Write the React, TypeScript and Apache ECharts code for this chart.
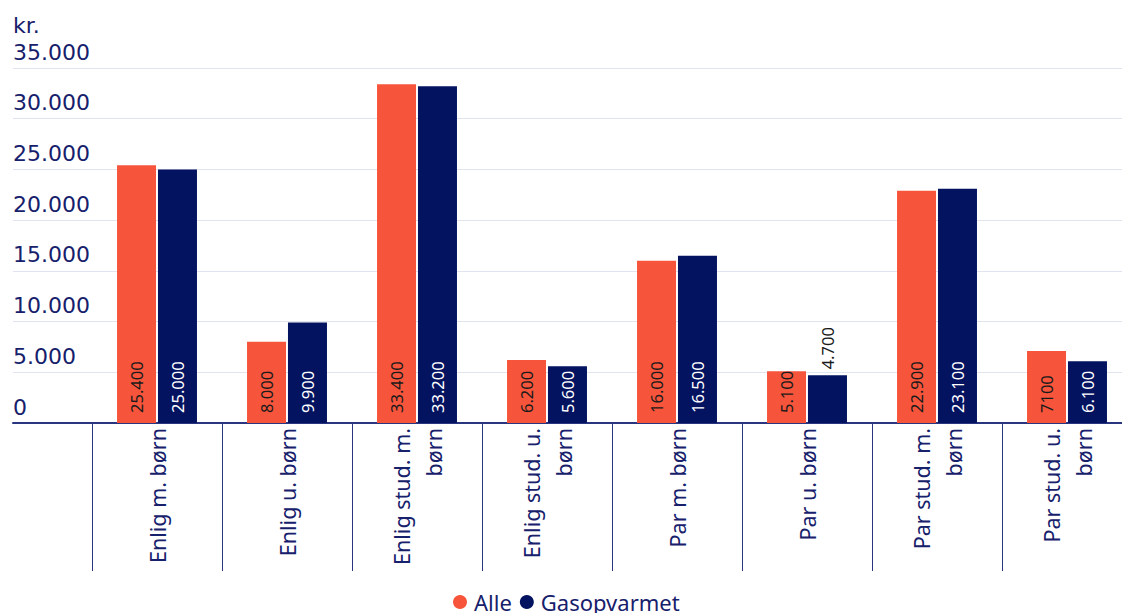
import React, { useEffect, useRef } from "react";
import * as echarts from "echarts";

const categories = [
  "Enlig m. børn",
  "Enlig u. børn",
  "Enlig stud. m.\nbørn",
  "Enlig stud. u.\nbørn",
  "Par m. børn",
  "Par u. børn",
  "Par stud. m.\nbørn",
  "Par stud. u.\nbørn",
];
const alleValues = [25400, 8000, 33400, 6200, 16000, 5100, 22900, 7100];
const alleLabels = ["25.400", "8.000", "33.400", "6.200", "16.000", "5.100", "22.900", "7100"];
const gasValues = [25000, 9900, 33200, 5600, 16500, 4700, 23100, 6100];
const gasLabels = ["25.000", "9.900", "33.200", "5.600", "16.500", "4.700", "23.100", "6.100"];
const yTicks = [0, 5000, 10000, 15000, 20000, 25000, 30000, 35000];
const yTickLabels = ["0", "5.000", "10.000", "15.000", "20.000", "25.000", "30.000", "35.000"];

const NAVY = "#03135f";
const ORANGE = "#f6553c";
const TEXT = "#16206b";
const FONT = "'Noto Sans', sans-serif";
const WIDE = "'DejaVu Sans', sans-serif";

export default function App() {
  const ref = useRef<HTMLDivElement>(null);
  useEffect(() => {
    if (!ref.current) return;
    const chart = echarts.init(ref.current, null, { renderer: "svg" });
    const labelMap: Record<number, string> = {};
    yTicks.forEach((t, i) => (labelMap[t] = yTickLabels[i]));

    const barLabel = (color: string) => ({
      show: true,
      position: "insideBottom",
      distance: 10,
      rotate: 90,
      align: "left",
      verticalAlign: "middle",
      fontSize: 16.5,
      fontFamily: FONT,
      color,
    });

    chart.setOption({
      animation: false,
      title: {
        text: "kr.",
        left: 8,
        top: 9,
        textStyle: { fontSize: 22, fontWeight: "normal", color: TEXT, fontFamily: WIDE },
      },
      legend: {
        bottom: -5,
        left: 448,
        icon: "circle",
        itemWidth: 14,
        itemHeight: 14,
        itemGap: 8,
        textStyle: { fontSize: 22, color: TEXT, fontFamily: FONT, padding: [0, 0, 0, 2] },
        data: ["Alle", "Gasopvarmet"],
      },
      grid: [
        { left: 13, right: 10, top: 68, bottom: 190 },
        { left: 92, right: 0, top: 68, bottom: 190 },
      ],
      xAxis: [
        {
          gridIndex: 0,
          type: "category",
          data: [""],
          axisLine: { show: true, lineStyle: { color: "#2a3580", width: 2 } },
          axisTick: { show: false },
          axisLabel: { show: false },
        },
        {
          gridIndex: 1,
          type: "category",
          data: categories,
          axisLine: { show: false },
          axisTick: {
            show: true,
            interval: 0,
            length: 148,
            lineStyle: { color: "#2a3580", width: 1 },
          },
          axisLabel: {
            interval: 0,
            rotate: 90,
            margin: 5,
            fontSize: 21.5,
            lineHeight: 32,
            color: TEXT,
            fontFamily: FONT,
          },
        },
      ],
      yAxis: [
        {
          gridIndex: 0,
          type: "value",
          min: 0,
          max: 35000,
          interval: 5000,
          axisLine: { show: false },
          axisTick: { show: false },
          splitLine: { lineStyle: { color: "#e1e3ee", width: 1 } },
          axisLabel: {
            inside: true,
            margin: 0,
            align: "left",
            verticalAlign: "bottom",
            padding: [0, 0, 5, 0],
            fontSize: 22,
            color: TEXT,
            fontFamily: WIDE,
            formatter: (v: number) => labelMap[v] ?? "",
          },
        },
        {
          gridIndex: 1,
          type: "value",
          min: 0,
          max: 35000,
          interval: 5000,
          show: false,
          splitLine: { show: false },
        },
      ],
      series: [
        {
          name: "Alle",
          type: "bar",
          xAxisIndex: 1,
          yAxisIndex: 1,
          barWidth: 39,
          barGap: "5%",
          itemStyle: { color: ORANGE },
          label: { ...barLabel("#1a1a1a"), formatter: (p: any) => alleLabels[p.dataIndex] },
          data: alleValues,
        },
        {
          name: "Gasopvarmet",
          type: "bar",
          xAxisIndex: 1,
          yAxisIndex: 1,
          barWidth: 39,
          barGap: "5%",
          itemStyle: { color: NAVY },
          label: { ...barLabel("#ffffff"), formatter: (p: any) => gasLabels[p.dataIndex] },
          data: gasValues.map((v, i) =>
            i === 5
              ? { value: v, label: { position: "top", distance: 6, color: "#1a1a1a" } }
              : v
          ),
        },
      ],
    });
    return () => chart.dispose();
  }, []);
  return (
    <div
      style={{
        position: "absolute",
        left: 0,
        top: 0,
        width: 1122,
        height: 613,
        overflow: "hidden",
        background: "#fff",
      }}
    >
      <div ref={ref} style={{ width: 1132, height: 613 }} />
    </div>
  );
}
